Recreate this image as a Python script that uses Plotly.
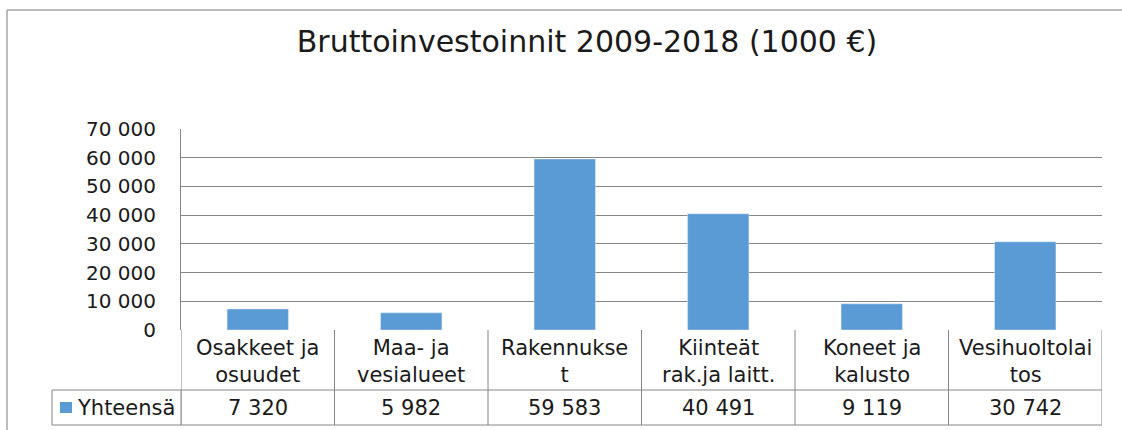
import plotly.graph_objects as go

categories = ["Osakkeet ja<br>osuudet", "Maa- ja<br>vesialueet", "Rakennukse<br>t",
              "Kiinteät<br>rak.ja laitt.", "Koneet ja<br>kalusto", "Vesihuoltolai<br>tos"]
values = [7320, 5982, 59583, 40491, 9119, 30742]
series_name = "Yhteensä"
title_text = "Bruttoinvestoinnit 2009-2018 (1000 €)"
y_ticks = [0, 10000, 20000, 30000, 40000, 50000, 60000, 70000]

W, H = 1122, 430
L, R, T, B = 181, 20, 129, 100
plot_h = H - T - B

def py(pix):
    # pixel y -> paper y
    return (H - B - pix) / plot_h

def px(pix):
    return (pix - L) / (W - L - R)

BAR = "#5B9BD5"
GRID = "#868686"
FRAME = "#A6A6A6"
FONT = "DejaVu Sans"
TXT = "#1a1a1a"

xs = list(range(len(categories)))

fig = go.Figure()
fig.add_trace(go.Bar(x=xs, y=values, width=0.4, marker_color=BAR, name=series_name,
                     showlegend=False))

shapes = []
annotations = []
row1_bot = py(390)
row2_bot = py(425)
# vertical table lines
for i in range(len(categories) + 1):
    shapes.append(dict(type="line", xref="x", yref="paper", x0=i - 0.5, x1=i - 0.5,
                       y0=0, y1=row2_bot, line=dict(color=GRID, width=1)))
# horizontal table lines
shapes.append(dict(type="line", xref="x", yref="paper", x0=-0.5, x1=len(categories) - 0.5,
                   y0=row1_bot, y1=row1_bot, line=dict(color=GRID, width=1)))
shapes.append(dict(type="line", xref="x", yref="paper", x0=-0.5, x1=len(categories) - 0.5,
                   y0=row2_bot, y1=row2_bot, line=dict(color=GRID, width=1)))
# legend cell
lx = px(52)
shapes.append(dict(type="rect", xref="paper", yref="paper", x0=lx, x1=0,
                   y0=row2_bot, y1=row1_bot, line=dict(color=GRID, width=1)))
shapes.append(dict(type="rect", xref="paper", yref="paper", x0=px(60), x1=px(72),
                   y0=py(413), y1=py(402), line=dict(width=0), fillcolor=BAR))
# outer chart frame
shapes.append(dict(type="line", xref="paper", yref="paper", x0=px(7), x1=px(7),
                   y0=py(440), y1=py(10), line=dict(color=FRAME, width=1.5)))
shapes.append(dict(type="line", xref="paper", yref="paper", x0=px(7), x1=px(1130),
                   y0=py(10), y1=py(10), line=dict(color=FRAME, width=1.5)))

for i, (c, v) in enumerate(zip(categories, values)):
    annotations.append(dict(x=i, y=py(361), xref="x", yref="paper", text=c, showarrow=False,
                            font=dict(family=FONT, size=21, color=TXT), align="center",
                            yanchor="middle"))
    annotations.append(dict(x=i, y=py(408), xref="x", yref="paper",
                            text=f"{v:,}".replace(",", " "), showarrow=False,
                            font=dict(family=FONT, size=21, color=TXT), yanchor="middle"))
annotations.append(dict(x=px(75), y=py(408), xref="paper", yref="paper", text=series_name,
                        showarrow=False, xanchor="left", yanchor="middle",
                        font=dict(family=FONT, size=21, color=TXT)))

fig.update_layout(
    width=W, height=H,
    margin=dict(l=L, r=R, t=T, b=B, pad=0),
    paper_bgcolor="white", plot_bgcolor="white",
    separators=", ",
    title=dict(text=title_text, xref="container", yref="container", x=587 / W, xanchor="center",
               y=1 - 41 / H, yanchor="middle",
               font=dict(family=FONT, size=30, color=TXT)),
    xaxis=dict(range=[-0.5, len(categories) - 0.5], showticklabels=False, showgrid=False,
               zeroline=False, showline=False, fixedrange=True),
    yaxis=dict(range=[0, 70000], tickvals=y_ticks, tickformat=",d", showgrid=True,
               gridcolor=GRID, gridwidth=1, zeroline=False, showline=True, linecolor=GRID,
               linewidth=1, ticks="", ticklabelstandoff=20,
               tickfont=dict(family=FONT, size=20, color=TXT)),
    shapes=shapes, annotations=annotations, showlegend=False,
)

fig.write_html("out.html", config={"displayModeBar": False},
               post_script="document.body.style.margin='0';document.body.style.overflow='hidden';")
